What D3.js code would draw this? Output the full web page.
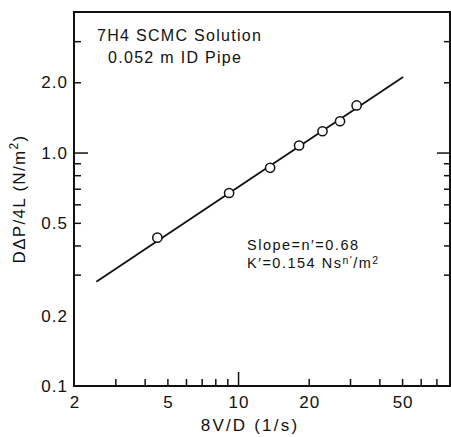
<!DOCTYPE html>
<html>
<head>
<meta charset="utf-8">
<script src="https://cdn.jsdelivr.net/npm/d3@7"></script>
<style>
  body { margin: 0; background: #fff; }
  text { font-family: "Liberation Sans", Arial, sans-serif; fill: #111; }
</style>
</head>
<body>
<div id="chart"></div>
<script>
// data
var shearRate = [4.53, 9.16, 13.7, 18.2, 22.9, 27.2, 32.0];
var wallStress = [0.432, 0.671, 0.860, 1.072, 1.234, 1.362, 1.591];
// fitted power-law line end points
var fitX = [2.49, 50.5];
var fitY = [0.2795, 2.105];

var xTickValues = [3, 4, 5, 6, 7, 8, 9, 10, 20, 30, 40, 50, 60, 70];
var xTickLabels = [2, 5, 10, 20, 50];
var yTickValues = [0.3, 0.4, 0.5, 0.6, 0.7, 0.8, 0.9, 1, 2, 3];
var yTickLabels = ["0.1", "0.2", "0.5", "1.0", "2.0"];

var width = 451, height = 437;
var plot = {left: 74, right: 450, top: 12, bottom: 386};

var svg = d3.select("#chart")
  .append("svg")
    .attr("width", width)
    .attr("height", height);

var x = d3.scaleLog().domain([2, 80]).range([plot.left, plot.right]);
var y = d3.scaleLog().domain([0.1, 4]).range([plot.bottom, plot.top]);

// frame
svg.append("rect")
    .attr("x", plot.left)
    .attr("y", plot.top)
    .attr("width", plot.right - plot.left)
    .attr("height", plot.bottom - plot.top)
    .attr("fill", "none")
    .attr("stroke", "#111")
    .attr("stroke-width", 2);

// bottom ticks, pointing up into the plot
var xAxis = svg.append("g")
    .attr("transform", "translate(0," + plot.bottom + ")")
    .call(d3.axisTop(x).tickValues(xTickValues).tickFormat("").tickSizeOuter(0)
      .tickSize(7));
xAxis.select(".domain").remove();
xAxis.selectAll(".tick line")
    .attr("stroke", "#111")
    .attr("stroke-width", 1.5)
    .attr("y2", function(d) { return d === 10 ? -14 : -7; });

// x tick labels
svg.selectAll(".xlab").data(xTickLabels)
  .enter().append("text")
    .attr("class", "xlab")
    .attr("x", function(d) { return x(d) + 1; })
    .attr("y", 408)
    .attr("font-size", "17px")
    .attr("letter-spacing", "1px")
    .style("text-anchor", "middle")
    .text(function(d) { return d; });

// left ticks, pointing right
var yAxisL = svg.append("g")
    .attr("transform", "translate(" + plot.left + ",0)")
    .call(d3.axisRight(y).tickValues(yTickValues).tickFormat("").tickSizeOuter(0));
yAxisL.select(".domain").remove();
yAxisL.selectAll(".tick line")
    .attr("stroke", "#111")
    .attr("stroke-width", 1.5)
    .attr("x2", function(d) { return d === 1 ? 14 : 7; });

// right ticks, pointing left
var yAxisR = svg.append("g")
    .attr("transform", "translate(" + plot.right + ",0)")
    .call(d3.axisLeft(y).tickValues(yTickValues).tickFormat("").tickSizeOuter(0));
yAxisR.select(".domain").remove();
yAxisR.selectAll(".tick line")
    .attr("stroke", "#111")
    .attr("stroke-width", 1.5)
    .attr("x2", function(d) { return d === 1 ? -13 : -6; });

// y tick labels
svg.selectAll(".ylab").data(yTickLabels)
  .enter().append("text")
    .attr("class", "ylab")
    .attr("x", 68)
    .attr("y", function(d) { return y(+d) + 6; })
    .attr("font-size", "17px")
    .attr("letter-spacing", "1px")
    .style("text-anchor", "end")
    .text(function(d) { return d; });

// axis titles
svg.append("text")
    .attr("x", 250)
    .attr("y", 431)
    .attr("font-size", "17px")
    .attr("letter-spacing", "2.2px")
    .style("text-anchor", "middle")
    .text("8V/D (1/s)");

var yTitle = svg.append("text")
    .attr("transform", "translate(25,199) rotate(-90)")
    .attr("font-size", "17px")
    .attr("letter-spacing", "1.3px")
    .style("text-anchor", "middle");
yTitle.append("tspan").text("DΔP/4L (N/m");
yTitle.append("tspan").attr("dy", -7).attr("font-size", "12px").text("2");
yTitle.append("tspan").attr("dy", 7).text(")");

// fitted line
var fitLine = d3.line()
  .x(function(d) { return x(d[0]); })
  .y(function(d) { return y(d[1]); });

svg.append("path")
    .datum(d3.zip(fitX, fitY))
    .attr("fill", "none")
    .attr("stroke", "#111")
    .attr("stroke-width", 1.8)
    .attr("d", fitLine);

// measured points
svg.selectAll(".pt").data(d3.zip(shearRate, wallStress))
  .enter().append("circle")
    .attr("class", "pt")
    .attr("cx", function(d) { return x(d[0]); })
    .attr("cy", function(d) { return y(d[1]); })
    .attr("r", 4.6)
    .attr("fill", "#fff")
    .attr("stroke", "#111")
    .attr("stroke-width", 1.5);

// annotations
svg.append("text")
    .attr("x", 97)
    .attr("y", 41)
    .attr("font-size", "16px")
    .attr("letter-spacing", "1.3px")
    .text("7H4 SCMC Solution");

svg.append("text")
    .attr("x", 108)
    .attr("y", 63)
    .attr("font-size", "16px")
    .attr("letter-spacing", "1.3px")
    .text("0.052 m ID Pipe");

svg.append("text")
    .attr("x", 247)
    .attr("y", 250)
    .attr("font-size", "14.5px")
    .attr("letter-spacing", "1.5px")
    .text("Slope=n′=0.68");

var kText = svg.append("text")
    .attr("x", 247)
    .attr("y", 268)
    .attr("font-size", "14.5px")
    .attr("letter-spacing", "1.5px");
kText.append("tspan").text("K′=0.154 Ns");
kText.append("tspan").attr("dy", -4).attr("font-size", "10.5px").text("n′");
kText.append("tspan").attr("dy", 4).text("/m");
kText.append("tspan").attr("dy", -4).attr("font-size", "10.5px").text("2");
</script>
</body>
</html>
